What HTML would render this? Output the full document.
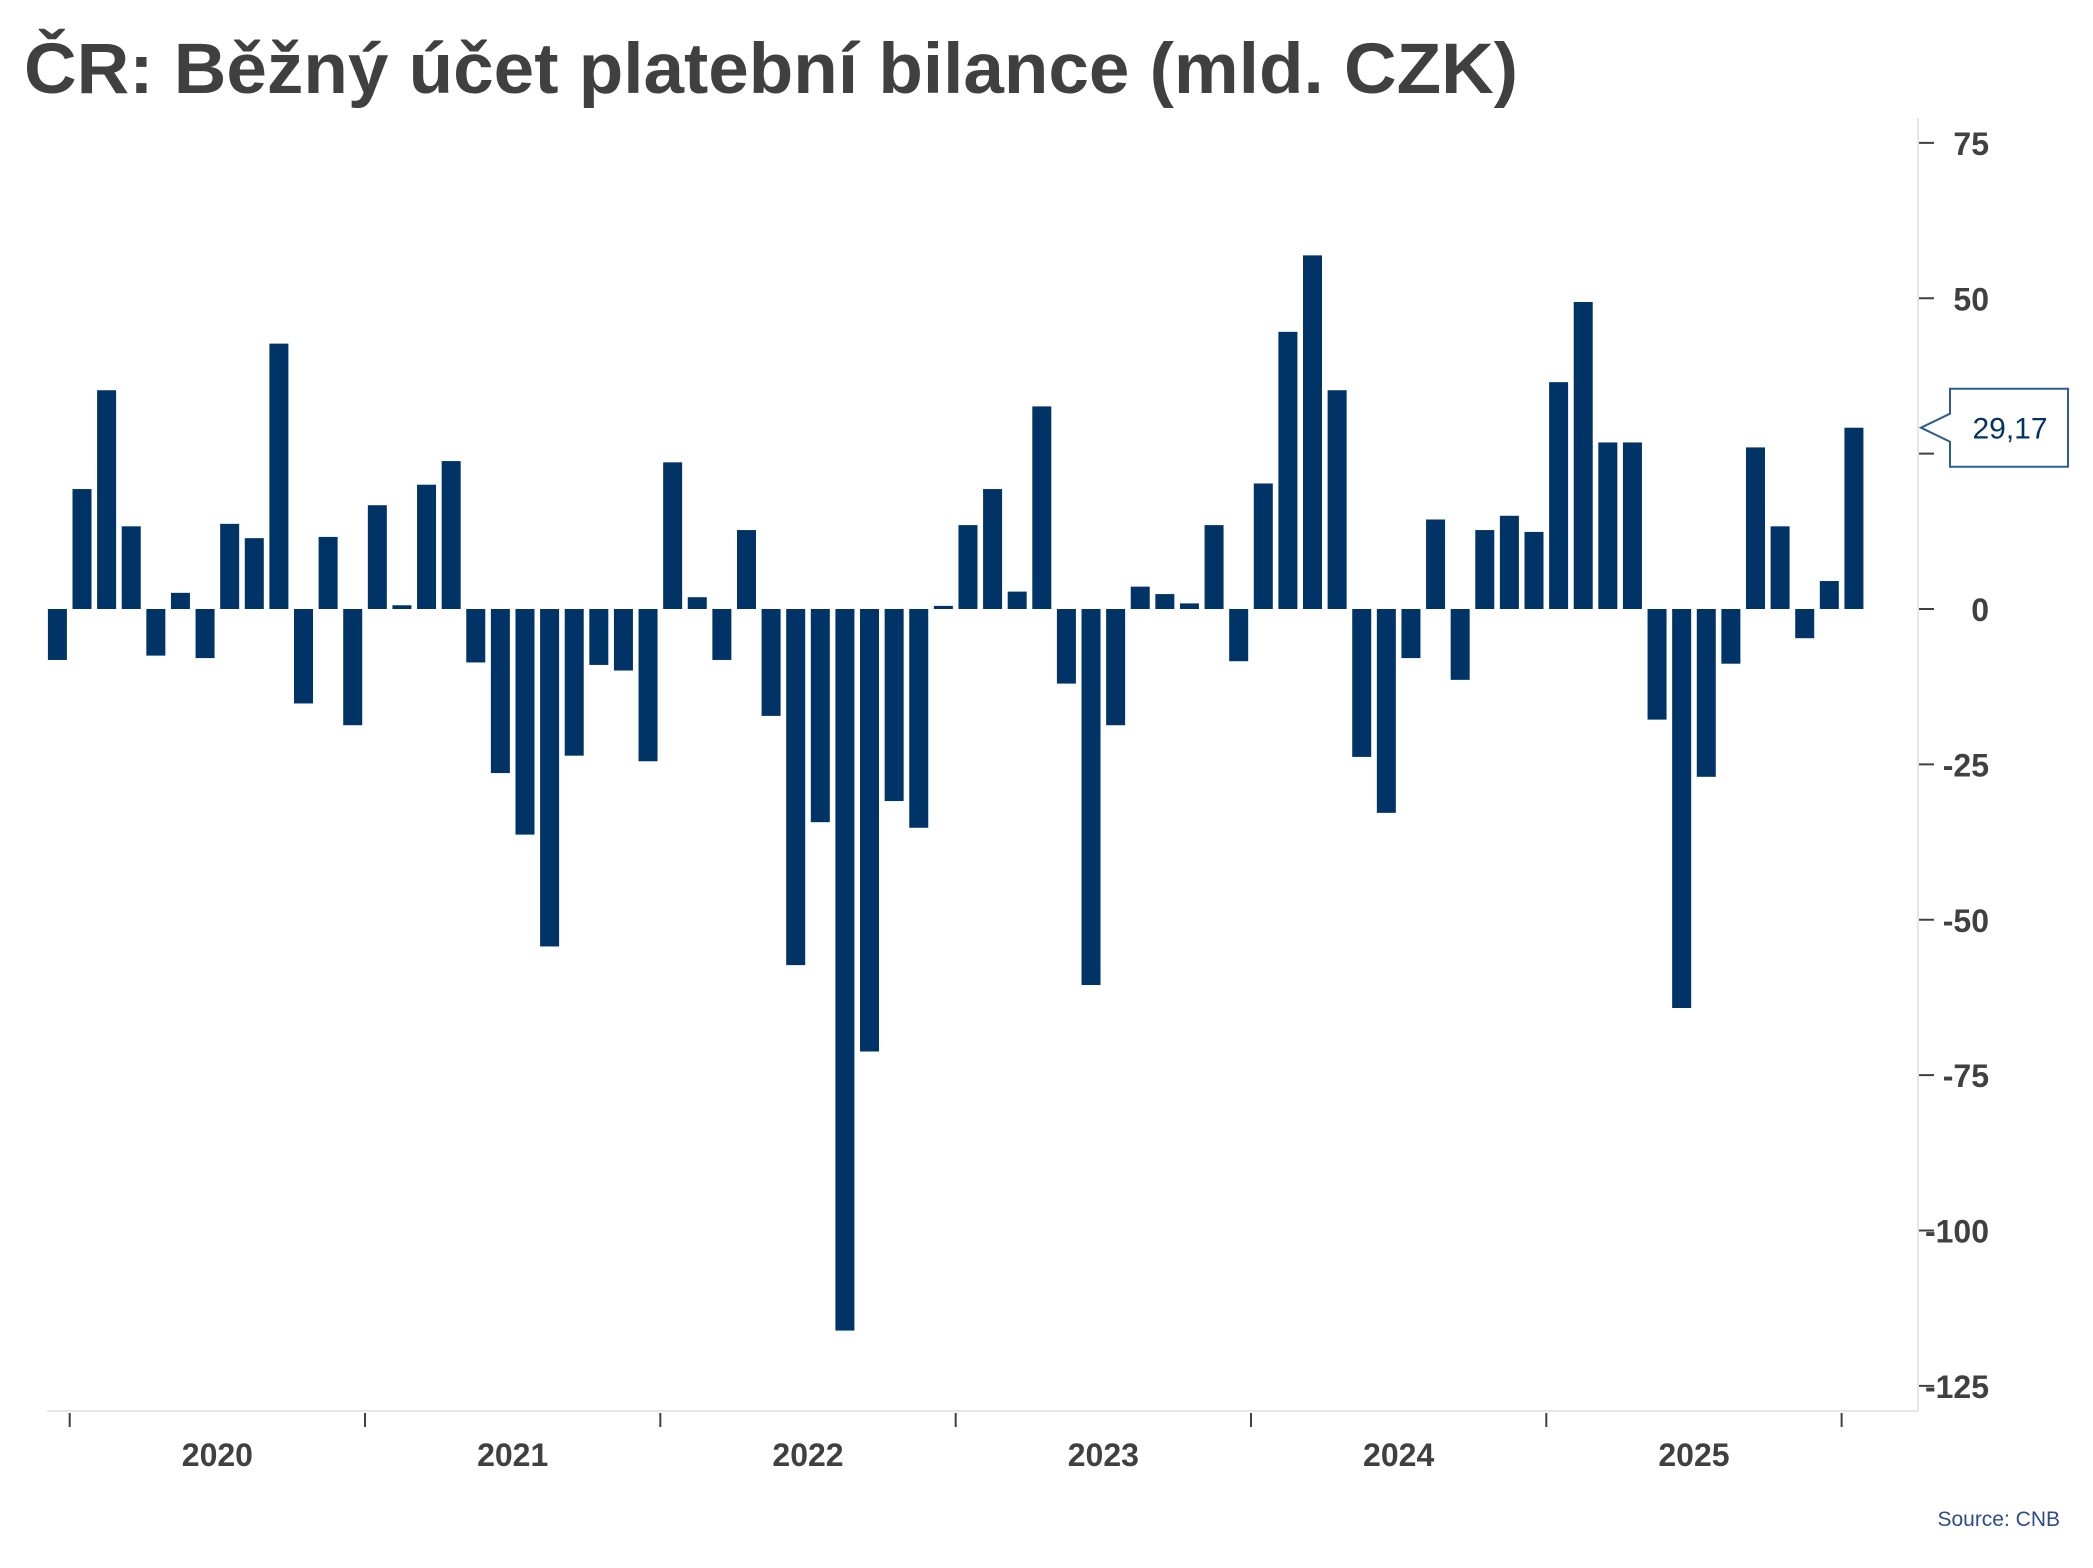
<!DOCTYPE html>
<html><head><meta charset="utf-8">
<style>
html,body{margin:0;padding:0;background:#fff;}
svg{display:block;font-family:"Liberation Sans","DejaVu Sans",sans-serif;}
</style></head>
<body>
<svg id="chart" width="2093" height="1568" viewBox="0 0 2093 1568">
  <text x="24" y="93" font-size="71" font-weight="bold" fill="#404040" textLength="1494" lengthAdjust="spacingAndGlyphs">ČR: Běžný účet platební bilance (mld. CZK)</text>
  <line x1="1918" y1="118" x2="1918" y2="1411" stroke="#e6e6e6" stroke-width="2"/>
  <line x1="47" y1="1411" x2="1918" y2="1411" stroke="#e6e6e6" stroke-width="2"/>
  <g id="yaxis"></g>
  <g id="xaxis"></g>
  <g id="bars"></g>
  <g id="callout"></g>
  <text x="2060" y="1526" font-size="21" fill="#2f4b8a" text-anchor="end">Source: CNB</text>
</svg>
<script>
const yTicks = [75, 50, 25, 0, -25, -50, -75, -100, -125];
const yearLabels = ["2020", "2021", "2022", "2023", "2024", "2025"];
const values = [-8.2, 19.3, 35.2, 13.3, -7.5, 2.6, -7.9, 13.7, 11.4, 42.7, -15.2, 11.6,
  -18.7, 16.7, 0.6, 20, 23.8, -8.6, -26.4, -36.3, -54.3, -23.6, -9, -9.9,
  -24.5, 23.6, 1.9, -8.2, 12.7, -17.2, -57.3, -34.3, -116.1, -71.2, -30.9, -35.2,
  0.5, 13.5, 19.3, 2.8, 32.6, -12, -60.5, -18.7, 3.6, 2.4, 0.9, 13.5,
  -8.4, 20.2, 44.6, 56.9, 35.2, -23.8, -32.8, -7.9, 14.4, -11.4, 12.7, 15,
  12.4, 36.5, 49.4, 26.8, 26.8, -17.8, -64.2, -27, -8.8, 26, 13.3, -4.7,
  4.5, 29.17];
const lastLabel = "29,17";

const NS = "http://www.w3.org/2000/svg";
const y0px = 609, pxPerUnit = 6.215;
function yScale(v){ return y0px - v * pxPerUnit; }
const x0 = 57.4, step = 24.61;
function xScale(i){ return x0 + i * step; }
const barW = 19;

const ya = document.getElementById('yaxis');
yTicks.forEach(t => {
  const y = yScale(t);
  const l = document.createElementNS(NS, 'line');
  l.setAttribute('x1', 1919); l.setAttribute('x2', 1934);
  l.setAttribute('y1', y); l.setAttribute('y2', y);
  l.setAttribute('stroke', '#404040'); l.setAttribute('stroke-width', 2);
  
  
  ya.appendChild(l);
  const tx = document.createElementNS(NS, 'text');
  tx.setAttribute('x', 1989); tx.setAttribute('y', y + 12);
  tx.setAttribute('text-anchor', 'end'); tx.setAttribute('font-size', 32);
  tx.setAttribute('font-weight', 'bold'); tx.setAttribute('fill', '#404040');
  tx.textContent = t;
  
  
  ya.appendChild(tx);
});

const xa = document.getElementById('xaxis');
for (let k = 0; k <= yearLabels.length; k++) {
  const x = xScale(12 * k) + step / 2;
  const l = document.createElementNS(NS, 'line');
  l.setAttribute('x1', x); l.setAttribute('x2', x);
  l.setAttribute('y1', 1413); l.setAttribute('y2', 1427);
  l.setAttribute('stroke', '#404040'); l.setAttribute('stroke-width', 2);
  
  
  xa.appendChild(l);
}
yearLabels.forEach((lab, k) => {
  const x = xScale(12 * k) + step / 2 + 6 * step;
  const tx = document.createElementNS(NS, 'text');
  tx.setAttribute('x', x); tx.setAttribute('y', 1466);
  tx.setAttribute('text-anchor', 'middle'); tx.setAttribute('font-size', 32);
  tx.setAttribute('font-weight', 'bold'); tx.setAttribute('fill', '#404040');
  tx.textContent = lab;
  
  
  xa.appendChild(tx);
});

const bg = document.getElementById('bars');
values.forEach((v, i) => {
  const r = document.createElementNS(NS, 'rect');
  const yTop = Math.min(yScale(v), yScale(0));
  const h = Math.abs(yScale(v) - yScale(0));
  r.setAttribute('x', xScale(i) - barW / 2);
  r.setAttribute('y', yTop);
  r.setAttribute('width', barW);
  r.setAttribute('height', Math.max(h, 1));
  r.setAttribute('fill', '#003366');
  
  
  bg.appendChild(r);
});

const cg = document.getElementById('callout');
const cy = yScale(values[values.length - 1]);
const p = document.createElementNS(NS, 'path');
p.setAttribute('d', `M1921 ${cy} L1950 ${cy-14} L1950 ${cy-39} L2068 ${cy-39} L2068 ${cy+39} L1950 ${cy+39} L1950 ${cy+14} Z`);
p.setAttribute('fill', '#fff'); p.setAttribute('stroke', '#2f5d8f'); p.setAttribute('stroke-width', 2);


cg.appendChild(p);
const ct = document.createElementNS(NS, 'text');
ct.setAttribute('x', 2010); ct.setAttribute('y', cy + 11);
ct.setAttribute('text-anchor', 'middle'); ct.setAttribute('font-size', 30);
ct.setAttribute('fill', '#003366');
ct.textContent = lastLabel;


cg.appendChild(ct);
</script>
</body></html>
